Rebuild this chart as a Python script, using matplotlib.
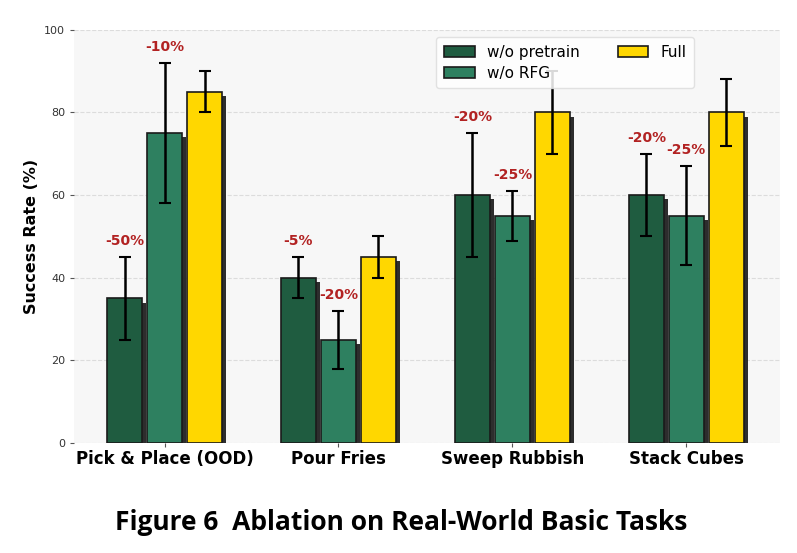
# -*- coding: utf-8 -*-

'''
    Ablation on real-world basic tasks, grouped bar chart
'''

import numpy as np
import matplotlib
matplotlib.use('Agg')
import matplotlib.pyplot as plt
import matplotlib.patheffects as pe

tasks = ['Pick & Place (OOD)', 'Pour Fries', 'Sweep Rubbish', 'Stack Cubes']
methods = ['w/o pretrain', 'w/o RFG', 'Full']

wo_pretrain = [35, 40, 60, 60]
wo_pretrain_err = [10, 5, 15, 10]
wo_rfg = [75, 25, 55, 55]
wo_rfg_err = [17, 7, 6, 12]
full = [85, 45, 80, 80]
full_err = [5, 5, 10, 8]

colors = ['#1f5c40', '#2e8060', '#ffd700']


def draw():
    fig = plt.figure(figsize=(7.97, 5.53), dpi=100)
    ax = fig.add_axes([0.093, 0.199, 0.886, 0.747])
    ax.set_facecolor('#f7f7f7')

    x = np.arange(len(tasks))
    width = 0.2
    offsets = [-0.23, 0.0, 0.23]
    values = [wo_pretrain, wo_rfg, full]
    errors = [wo_pretrain_err, wo_rfg_err, full_err]

    all_bars = []
    for i in range(3):
        bars = ax.bar(x + offsets[i], values[i], width, color=colors[i], edgecolor='#1a1a1a',
                      linewidth=1.2, label=methods[i], zorder=3)
        all_bars.append(bars)
        ax.errorbar(x + offsets[i], values[i], yerr=errors[i], fmt='none', ecolor='black',
                    elinewidth=1.8, capsize=4.5, capthick=1.5, zorder=4)

    # drop relative to Full
    for i in range(2):
        for j in range(len(tasks)):
            diff = values[i][j] - full[j]
            ax.text(x[j] + offsets[i], values[i][j] + errors[i][j] + 2.2, '%d%%' % diff,
                    ha='center', va='bottom', color='#b22222', fontsize=10, fontweight='bold', zorder=5)

    ax.set_xlim(-0.52, 3.54)
    ax.set_ylim(0, 100)
    ax.set_yticks([0, 20, 40, 60, 80, 100])
    ax.set_xticks(x)
    ax.set_xticklabels(tasks, fontsize=12, fontweight='bold')
    ax.tick_params(axis='y', labelsize=8, labelcolor='#333333', length=3, color='#555555')
    ax.tick_params(axis='x', length=3, color='#555555', pad=2)
    ax.set_ylabel('Success Rate (%)', fontsize=11.5, fontweight='bold', labelpad=4)

    ax.grid(axis='y', linestyle='--', color='#dcdcdc', linewidth=0.8, zorder=0)
    for s in ax.spines.values():
        s.set_visible(False)

    leg = ax.legend(ncol=2, loc='upper left', bbox_to_anchor=(0.513, 0.983), borderaxespad=0,
                    fontsize=11, frameon=True, framealpha=0.85, edgecolor='#dddddd',
                    columnspacing=2.5, handlelength=2.0, borderpad=0.5, labelspacing=0.4)
    leg.get_frame().set_facecolor('white')
    leg.set_zorder(6)

    # shadow on bars only (after the legend so the handles stay flat)
    shadow = [pe.SimplePatchShadow(offset=(3, -3), shadow_rgbFace='#222222', alpha=0.95), pe.Normal()]
    for bars in all_bars:
        for b in bars:
            b.set_path_effects(shadow)

    fig.text(0.503, 0.055, 'Figure 6  Ablation on Real-World Basic Tasks', ha='center', va='center',
             fontsize=19, fontweight='bold', family='Open Sans')

    fig.savefig('out.png', dpi=100)


if __name__ == "__main__":
    draw()
